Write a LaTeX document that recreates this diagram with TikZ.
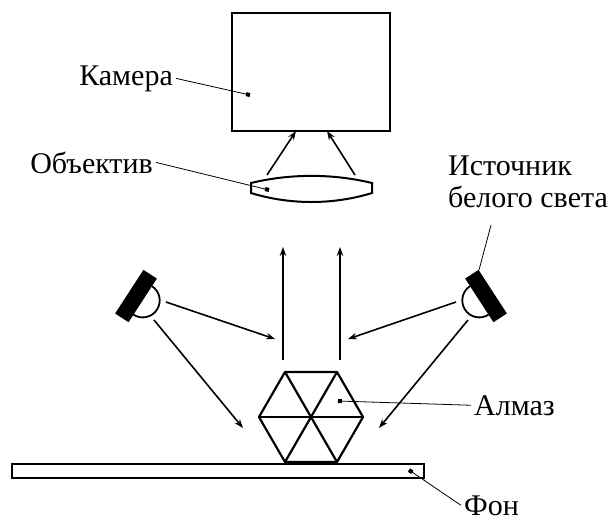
\documentclass[tikz,border=0pt]{standalone}
\usepackage{fontspec}
\setmainfont{Liberation Serif}
\newfontfamily\lblfont{Liberation Serif}
\usetikzlibrary{arrows.meta}

\newcommand{\lamp}[2] % {centre of the shade}{angle}
{
 \begin{scope}[shift={(#1)},rotate=#2]
  \fill (-16,-26) rectangle (0,26);
  \draw[line width=1.8pt] (0,-17) arc(-90:90:17);
 \end{scope}
}

\begin{document}
\begin{tikzpicture}[x=1pt,y=-1pt,
  ray/.style={line width=1.6pt,-{Stealth[length=9pt,width=6.5pt]}},
  leader/.style={line width=0.8pt},
  dot/.style={-{Square[length=4pt,width=4pt]}},
  lbl/.style={inner xsep=3pt,inner ysep=0pt,font=\lblfont\fontsize{30}{31.5}\selectfont}]

\useasboundingbox (0,0) rectangle (611,523);

\def\r{52} % hexagon radius
\def\m{311} % axis

% camera and objective
\draw[line width=2.6pt] (232,13) rectangle (390,131);
\draw[line width=2pt] (251,183) -- (251,193)
  .. controls (290,205) and (333,205) .. (372,193) -- (372,183)
  .. controls (333,173.5) and (290,173.5) .. (251,183) -- cycle;

% diamond on the background plate
\begin{scope}[shift={(\m,417)},line width=2.2pt,line join=round]
  \draw (0:\r) \foreach \a in {60,120,...,300} { -- (\a:\r) } -- cycle;
  \foreach \a in {0,60,120}
    \draw (\a:\r) -- (\a+180:\r);
\end{scope}
\draw[line width=2pt] (12,464) rectangle (424,478);

% light sources
\lamp{142.7,300.4}{-33}
\lamp{479.3,300.4}{-147}

\coordinate (l1) at (166,302);
\coordinate (l2) at (154,320);
\coordinate (r1) at (456,302);
\coordinate (r2) at (468,320);
\coordinate (l1e) at (275,339);
\coordinate (l2e) at (243,428);
\coordinate (r1e) at (348,339);
\coordinate (r2e) at (379,428);

\draw[ray] (l1) -- (l1e);
\draw[ray] (l2) -- (l2e);
\draw[ray] (r1) -- (r1e);
\draw[ray] (r2) -- (r2e);

% reflected rays
\coordinate (v1) at (283,360);
\coordinate (v2) at (340,360);
\coordinate (v1e) at (283,247);
\coordinate (v2e) at (340,247);
\draw[ray] (v1) -- (v1e);
\draw[ray] (v2) -- (v2e);

\coordinate (o1) at (267,175);
\coordinate (o2) at (355,175);
\coordinate (c1) at (296,131);
\coordinate (c2) at (327,131);
\draw[ray] (o1) -- (c1);
\draw[ray] (o2) -- (c2);

% labels
\node[lbl,anchor=base east] (cam) at (176,85) {Камера};
\node[lbl,anchor=base east] (obj) at (156,173) {Объектив};
\node[lbl,anchor=north west,align=left,inner xsep=0pt] (src) at (448,156)
  {Источник\\белого света};
\node[lbl,anchor=base west] (alm) at (471,415) {Алмаз};
\node[lbl,anchor=base west] (fon) at (461,515) {Фон};

\coordinate (camd) at (250,95);
\coordinate (objd) at (269,190);
\coordinate (almd) at (338,401);
\coordinate (fond) at (409,470);
\coordinate (srca) at (491,225);
\coordinate (srcb) at (479,270);

\draw[leader,dot] (cam.east) -- (camd);
\draw[leader,dot] (obj.east) -- (objd);
\draw[leader,dot] (alm.west) -- (almd);
\draw[leader,dot] (fon.west) -- (fond);
\draw[leader] (srca) -- (srcb);

\end{tikzpicture}
\end{document}
